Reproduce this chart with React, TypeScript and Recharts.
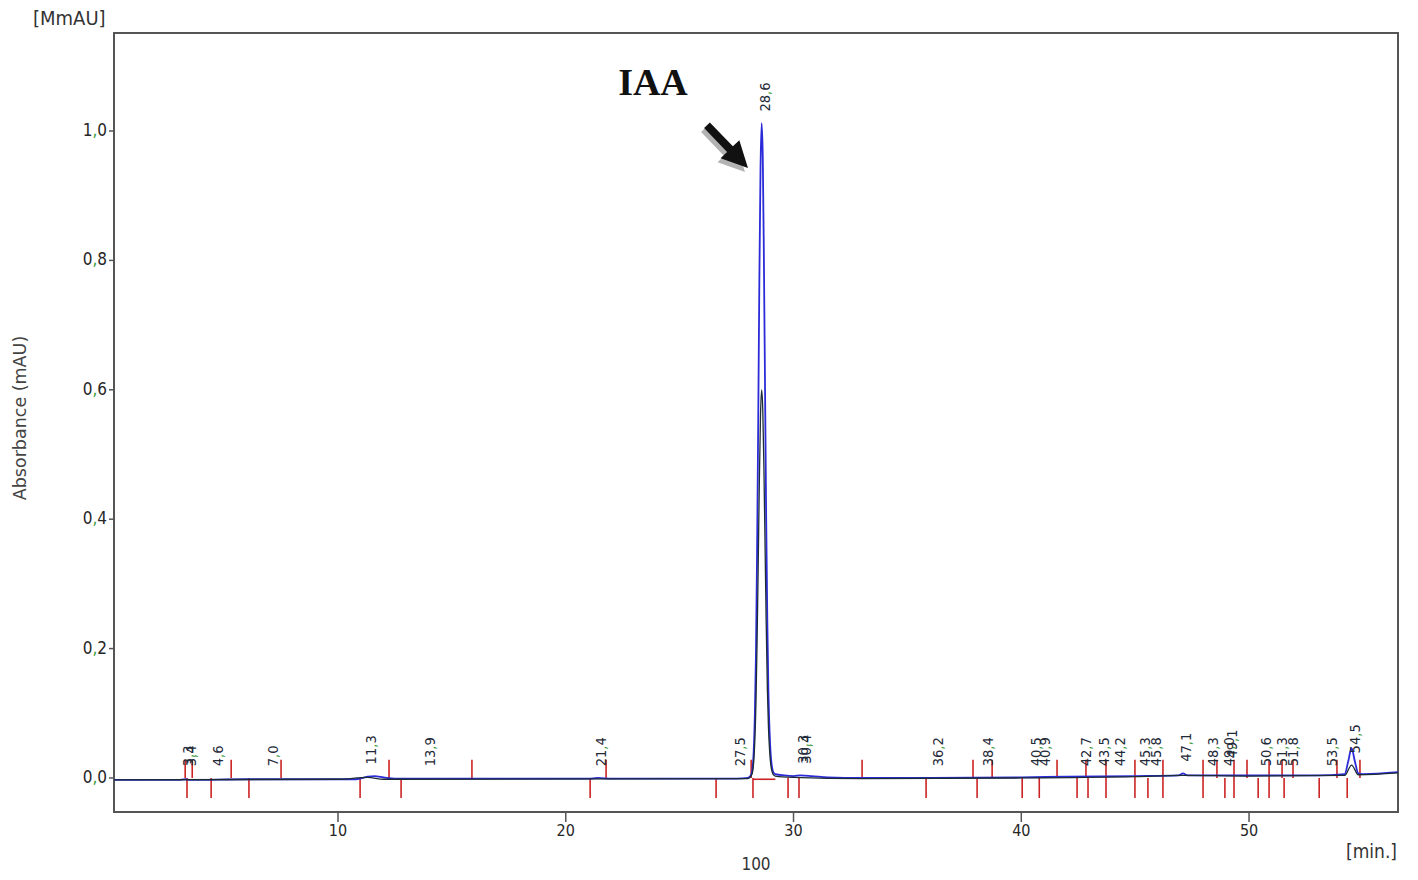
import React from 'react';
import {
  ComposedChart, Line, Scatter, XAxis, YAxis, ReferenceLine, ReferenceArea, ReferenceDot,
} from 'recharts';

// ---------- data ----------
const xTicks = [10, 20, 30, 40, 50];
const yTicks = [0, 0.2, 0.4, 0.6, 0.8, 1.0];
const xDomain: [number, number] = [0.165, 56.54];
const yDomain: [number, number] = [-0.0526, 1.1515];

// blue trace (time [min], absorbance)
const blueTrace: [number, number][] = [
  [0.165, -0.003], [3.0, -0.003], [3.3, -0.002], [3.5, -0.003], [6.0, -0.002],
  [10.8, -0.002], [11.3, 0.002], [11.6, 0.003], [12.0, 0.001], [12.5, -0.001],
  [16.0, -0.001], [21.0, -0.001], [21.4, 0.0], [22.0, -0.001], [27.5, -0.001],
  [28.0, 0.0], [28.15, 0.006], [28.2, 0.015], [28.25, 0.04], [28.3, 0.095],
  [28.35, 0.19], [28.4, 0.35], [28.45, 0.55], [28.5, 0.77], [28.55, 0.94],
  [28.6, 1.012], [28.65, 0.96], [28.7, 0.8], [28.75, 0.6], [28.8, 0.4],
  [28.85, 0.24], [28.9, 0.13], [28.95, 0.07], [29.0, 0.035], [29.05, 0.018],
  [29.1, 0.01], [29.2, 0.006], [29.6, 0.004], [30.0, 0.003], [30.3, 0.004],
  [30.8, 0.003], [31.5, 0.001], [33.0, 0.0], [36.0, 0.0], [40.0, 0.001],
  [42.0, 0.002], [45.0, 0.003], [46.9, 0.004], [47.1, 0.007], [47.3, 0.004],
  [50.0, 0.004], [53.0, 0.004], [54.2, 0.006], [54.35, 0.025], [54.5, 0.046],
  [54.65, 0.025], [54.8, 0.007], [55.0, 0.006], [56.54, 0.009],
];

// dark trace (time [min], absorbance)
const darkTrace: [number, number][] = [
  [0.165, -0.003], [10.0, -0.002], [11.3, 0.001], [12.0, -0.002], [28.0, -0.001],
  [28.15, 0.004], [28.2, 0.009], [28.25, 0.024], [28.3, 0.057], [28.35, 0.115],
  [28.4, 0.21], [28.45, 0.33], [28.5, 0.46], [28.55, 0.56], [28.6, 0.6],
  [28.65, 0.57], [28.7, 0.48], [28.75, 0.36], [28.8, 0.24], [28.85, 0.14],
  [28.9, 0.078], [28.95, 0.042], [29.0, 0.021], [29.05, 0.011], [29.1, 0.006],
  [29.2, 0.003], [30.0, 0.001], [33.0, -0.001], [40.0, 0.0], [45.0, 0.002],
  [47.1, 0.004], [50.0, 0.003], [54.2, 0.004], [54.5, 0.02], [54.8, 0.005],
  [56.54, 0.008],
];

// integration markers (peak start / end)
const upMarks = [3.29, 3.6, 5.31, 7.5, 12.24, 15.88, 21.77, 28.14, 33.01, 37.88, 38.72, 41.57, 42.84, 43.72, 44.99, 46.22, 47.98, 48.59, 49.34, 49.91, 50.88, 51.45, 51.93, 53.86, 54.87];
const downMarks = [3.37, 4.43, 6.09, 10.97, 12.77, 21.07, 26.6, 28.22, 29.76, 30.24, 35.82, 38.06, 40.04, 40.79, 42.45, 42.93, 43.72, 44.99, 45.56, 46.22, 47.98, 48.94, 49.34, 50.4, 50.88, 51.54, 53.08, 54.31];

// peak retention times and apex heights
const peakTimes = [3.3, 3.4, 4.6, 7.0, 11.3, 13.9, 21.4, 27.5, 28.6, 30.3, 30.4, 36.2, 38.4, 40.5, 40.9, 42.7, 43.5, 44.2, 45.3, 45.8, 47.1, 48.3, 49.0, 49.1, 50.6, 51.3, 51.8, 53.5, 54.5];
const peakApex = [0, 0, 0, 0, 0.003, 0, 0, 0, 1.012, 0.004, 0.004, 0, 0, 0, 0, 0, 0, 0, 0, 0, 0.007, 0, 0, 0.012, 0, 0, 0, 0, 0.02];

// ---------- styling ----------
const FONT = "'DejaVu Sans Condensed', 'DejaVu Sans', Tahoma, sans-serif";
const TXT = '#262626';
const GREEN = '#3a9a3a';
const RED = '#cc2424';
const BLUE = '#2b2bd9';
const DARK = '#1c2c34';

const blueData = blueTrace.map(([t, v]) => ({ t, v }));
const darkData = darkTrace.map(([t, v]) => ({ t, v }));
const labelData = peakTimes.map((t, i) => ({
  t,
  v: peakApex[i] + 0.018,
  text: t.toFixed(1),
}));

const CommaNumber = ({ s, comma }: { s: string; comma: string }) => {
  const [a, b] = s.split('.');
  return (
    <>
      <tspan>{a}</tspan>
      <tspan fill={comma}>,</tspan>
      <tspan>{b}</tspan>
    </>
  );
};

const YTick = (props: any) => {
  const { x, y, payload } = props;
  return (
    <text x={x} y={y} dy={5} textAnchor="end" fontSize={17} fontFamily={FONT} fill={TXT}>
      <CommaNumber s={Number(payload.value).toFixed(1)} comma={GREEN} />
    </text>
  );
};

const XTick = (props: any) => {
  const { x, y, payload } = props;
  return (
    <text x={x} y={y} dy={14} textAnchor="middle" fontSize={16} fontFamily={FONT} fill={TXT}>
      {payload.value}
    </text>
  );
};

const PeakLabel = (props: any) => {
  const { cx, cy, payload } = props;
  if (cx == null || cy == null) return null;
  return (
    <text
      transform={`translate(${cx + 8},${cy}) rotate(-90)`}
      fontSize={14.5}
      fontFamily={FONT}
      fill="#1f2a38"
    >
      <CommaNumber s={payload.text} comma={GREEN} />
    </text>
  );
};

const ArrowShape = (p: any) => {
  const { x1, y1, x2, y2 } = p;
  if ([x1, y1, x2, y2].some((v) => v == null || isNaN(v))) return null;
  const dx = x2 - x1;
  const dy = y2 - y1;
  const len = Math.sqrt(dx * dx + dy * dy);
  const ux = dx / len, uy = dy / len;
  const nx = -uy, ny = ux;
  const headLen = 26, headW = 13, shaftW = 4;
  const bx = x2 - ux * headLen, by = y2 - uy * headLen;
  const pts = [
    [x1 + nx * shaftW, y1 + ny * shaftW],
    [bx + nx * shaftW, by + ny * shaftW],
    [bx + nx * headW, by + ny * headW],
    [x2, y2],
    [bx - nx * headW, by - ny * headW],
    [bx - nx * shaftW, by - ny * shaftW],
    [x1 - nx * shaftW, y1 - ny * shaftW],
  ].map((q) => q.join(',')).join(' ');
  return (
    <g>
      <polygon points={pts} fill="#9a9a9a" opacity={0.75} transform="translate(-3,4)" />
      <polygon points={pts} fill="#111" />
    </g>
  );
};

const IAAText = (p: any) => {
  const { cx, cy } = p;
  return (
    <text
      x={cx}
      y={cy}
      textAnchor="middle"
      dominantBaseline="central"
      fontFamily="'Liberation Serif', 'Times New Roman', serif"
      fontWeight="bold"
      fontSize={38}
      fill="#111"
    >
      IAA
    </text>
  );
};

const W = 1402;
const H = 864;

export default function App() {
  return (
    <div style={{ position: 'relative', width: W, height: H, background: '#fff' }}>
      <ComposedChart
        width={W}
        height={H}
        margin={{ top: 25, right: 12, bottom: 30, left: 0 }}
      >
        <XAxis
          dataKey="t"
          type="number"
          domain={xDomain}
          ticks={xTicks}
          allowDataOverflow
          height={30}
          axisLine={false}
          tickLine={{ stroke: '#555', strokeWidth: 1.5 }}
          tickSize={10}
          tickMargin={0}
          tick={<XTick />}
        />
        <YAxis
          type="number"
          domain={yDomain}
          ticks={yTicks}
          allowDataOverflow
          width={106}
          axisLine={false}
          tickLine={{ stroke: '#555', strokeWidth: 1.5 }}
          tickSize={5}
          tickMargin={2}
          tick={<YTick />}
        />
        <ReferenceArea
          x1={xDomain[0]}
          x2={xDomain[1]}
          y1={yDomain[0]}
          y2={yDomain[1]}
          fill="none"
          stroke="#555"
          strokeWidth={2}
          ifOverflow="visible"
        />
        {upMarks.map((t, i) => (
          <ReferenceLine
            key={'u' + i}
            segment={[{ x: t, y: 0 }, { x: t, y: 0.028 }]}
            stroke={RED}
            strokeWidth={1.6}
          />
        ))}
        {downMarks.map((t, i) => (
          <ReferenceLine
            key={'d' + i}
            segment={[{ x: t, y: 0 }, { x: t, y: -0.031 }]}
            stroke={RED}
            strokeWidth={1.6}
          />
        ))}
        <ReferenceLine
          segment={[{ x: 28.22, y: -0.002 }, { x: 29.2, y: -0.002 }]}
          stroke={RED}
          strokeWidth={1.6}
        />
        <Line
          data={blueData}
          dataKey="v"
          type="monotone"
          stroke={BLUE}
          strokeWidth={1.8}
          dot={false}
          isAnimationActive={false}
        />
        <Line
          data={darkData}
          dataKey="v"
          type="monotone"
          stroke={DARK}
          strokeWidth={1.3}
          dot={false}
          isAnimationActive={false}
        />
        <Scatter
          data={labelData}
          dataKey="v"
          shape={<PeakLabel />}
          isAnimationActive={false}
        />
        <ReferenceLine
          segment={[{ x: 26.2, y: 1.009 }, { x: 28.0, y: 0.943 }]}
          shape={ArrowShape}
          ifOverflow="visible"
        />
        <ReferenceDot x={23.83} y={1.076} r={0} shape={IAAText} ifOverflow="visible" />
      </ComposedChart>

      <div style={{ position: 'absolute', left: 25, top: -2, fontFamily: FONT, fontSize: 20, color: '#333', whiteSpace: 'nowrap' }}>
        [MmAU]
      </div>
      <div
        style={{
          position: 'absolute', left: 12, top: 410, width: 0, height: 0,
        }}
      >
        <div
          style={{
            position: 'absolute', left: 0, top: 0, transform: 'translate(-50%, -50%) rotate(-90deg)',
            fontFamily: "'DejaVu Sans', Tahoma, sans-serif", fontSize: 17.5, color: '#444', whiteSpace: 'nowrap',
          }}
        >
          Absorbance (mAU)
        </div>
      </div>
      <div style={{ position: 'absolute', left: 1338, top: 832, fontFamily: FONT, fontSize: 19, color: '#333', whiteSpace: 'nowrap' }}>
        [min.]
      </div>
      <div style={{ position: 'absolute', left: 748, top: 846, transform: 'translateX(-50%)', fontFamily: FONT, fontSize: 17, color: '#333' }}>
        100
      </div>
    </div>
  );
}
